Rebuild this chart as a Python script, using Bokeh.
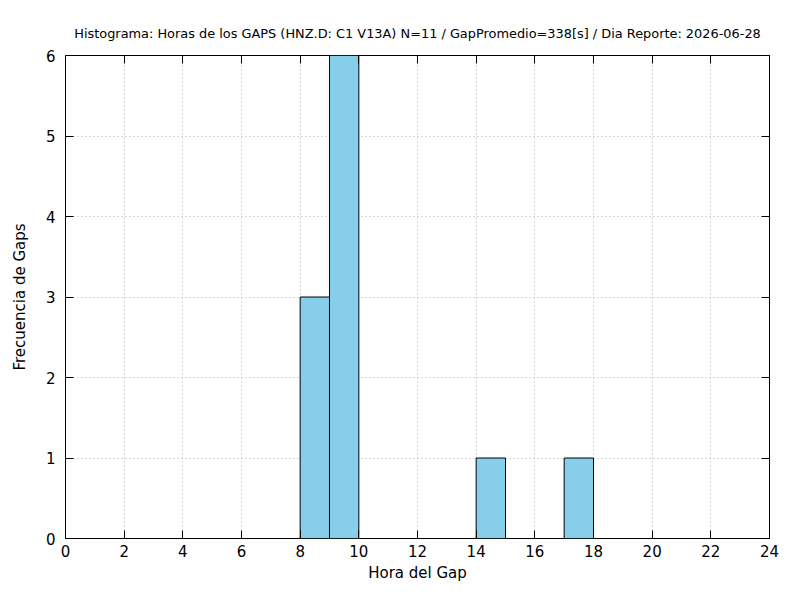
from bokeh.plotting import figure
from bokeh.models import LinearAxis, Range1d, FixedTicker, Title
from bokeh.embed import file_html
from bokeh.resources import INLINE

# Data
bin_left = [8, 9, 14, 17]
bin_right = [9, 10, 15, 18]
counts = [3, 6, 1, 1]
x_ticks = [0, 2, 4, 6, 8, 10, 12, 14, 16, 18, 20, 22, 24]
y_ticks = [0, 1, 2, 3, 4, 5, 6]
title_text = "Histograma: Horas de los GAPS (HNZ.D: C1 V13A) N=11 / GapPromedio=338[s] / Dia Reporte: 2026-06-28"
x_label = "Hora del Gap"
y_label = "Frecuencia de Gaps"

FONT = "DejaVu Sans"

p = figure(width=784, height=584, output_backend="svg", toolbar_location=None,
           x_range=Range1d(0, 24), y_range=Range1d(0, 6),
           min_border_left=65, min_border_right=15, min_border_top=55, min_border_bottom=43,
           x_axis_label=x_label, y_axis_label=y_label)

p.title = Title(text=title_text, align="center", text_font=FONT, text_font_size="12.9px",
                text_font_style="normal", text_color="black", standoff=29)

p.quad(left=bin_left, right=bin_right, top=counts, bottom=0,
       fill_color="#87ceeb", line_color="black", line_width=1)

p.outline_line_color = "black"
p.outline_line_width = 1
p.outline_line_alpha = 1

for ax in (p.xaxis[0], p.yaxis[0]):
    ax.axis_line_color = None
    ax.major_tick_in = 8
    ax.major_tick_out = 0
    ax.minor_tick_line_color = None
    ax.major_label_text_font = FONT
    ax.major_label_text_font_size = "15px"
    ax.major_label_text_color = "black"
    ax.axis_label_text_font = FONT
    ax.axis_label_text_font_size = "15px"
    ax.axis_label_text_font_style = "normal"
    ax.axis_label_text_color = "black"
    ax.major_tick_line_color = "black"

p.xaxis[0].ticker = FixedTicker(ticks=x_ticks)
p.yaxis[0].ticker = FixedTicker(ticks=y_ticks)
p.xaxis[0].major_label_standoff = 6
p.xaxis[0].axis_label_standoff = 4
p.yaxis[0].major_label_standoff = 10
p.yaxis[0].axis_label_standoff = 14

# Mirrored ticks
top = LinearAxis(ticker=FixedTicker(ticks=x_ticks), major_label_text_font_size="0px",
                 axis_line_color=None, major_tick_in=8, major_tick_out=0,
                 minor_tick_line_color=None, major_label_text_alpha=0,
                 major_label_standoff=0)
right = LinearAxis(ticker=FixedTicker(ticks=y_ticks), major_label_text_font_size="0px",
                   axis_line_color=None, major_tick_in=8, major_tick_out=0,
                   minor_tick_line_color=None, major_label_text_alpha=0,
                   major_label_standoff=0)
p.add_layout(top, "above")
p.add_layout(right, "right")

p.xgrid.ticker = FixedTicker(ticks=x_ticks)
p.ygrid.ticker = FixedTicker(ticks=y_ticks)
for g in (p.xgrid[0], p.ygrid[0]):
    g.grid_line_color = "#b0b0b0"
    g.grid_line_dash = "1 3"
    g.grid_line_width = 1

p.background_fill_color = "white"
p.border_fill_color = "white"

open("out.html", "w").write(file_html(p, INLINE))
